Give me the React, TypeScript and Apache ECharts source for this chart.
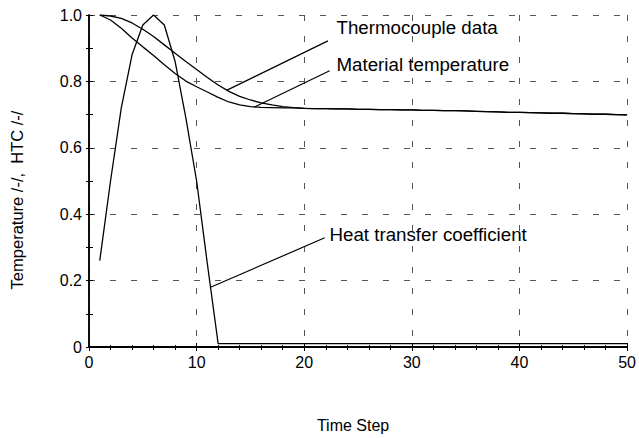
import React, { useEffect, useRef } from "react";
import * as echarts from "echarts";

const timeSteps = [
  1, 2, 3, 4, 5, 6, 7, 8, 9, 10, 11, 12, 13, 14, 15, 16, 17, 18, 19, 20,
  21, 22, 23, 24, 25, 26, 27, 28, 29, 30, 31, 32, 33, 34, 35, 36, 37, 38, 39, 40,
  41, 42, 43, 44, 45, 46, 47, 48, 49, 50,
];

const thermocoupleData = [
  1.0, 0.997, 0.99, 0.976, 0.957, 0.935, 0.91, 0.885, 0.86, 0.836,
  0.812, 0.789, 0.77, 0.755, 0.744, 0.735, 0.729, 0.724, 0.721, 0.719,
  0.718, 0.718, 0.717, 0.717, 0.716, 0.716, 0.715, 0.715, 0.714, 0.714,
  0.713, 0.713, 0.712, 0.712, 0.711, 0.71, 0.709, 0.708, 0.707, 0.707,
  0.706, 0.705, 0.704, 0.704, 0.703, 0.702, 0.701, 0.701, 0.7, 0.699,
];

const materialTemperature = [
  1.0, 0.985, 0.96, 0.931, 0.904, 0.878, 0.85, 0.824, 0.801, 0.784,
  0.768, 0.752, 0.738, 0.729, 0.724, 0.722, 0.721, 0.72, 0.72, 0.719,
  0.718, 0.718, 0.717, 0.717, 0.716, 0.716, 0.715, 0.715, 0.714, 0.714,
  0.713, 0.713, 0.712, 0.712, 0.711, 0.71, 0.709, 0.708, 0.707, 0.707,
  0.706, 0.705, 0.704, 0.704, 0.703, 0.702, 0.701, 0.701, 0.7, 0.699,
];

const heatTransferCoefficient = [
  0.26, 0.5, 0.72, 0.88, 0.97, 1.0, 0.97, 0.86, 0.69, 0.5,
  0.25, 0.01, 0.01, 0.01, 0.01, 0.01, 0.01, 0.01, 0.01, 0.01,
  0.01, 0.01, 0.01, 0.01, 0.01, 0.01, 0.01, 0.01, 0.01, 0.01,
  0.01, 0.01, 0.01, 0.01, 0.01, 0.01, 0.01, 0.01, 0.01, 0.01,
  0.01, 0.01, 0.01, 0.01, 0.01, 0.01, 0.01, 0.01, 0.01, 0.01,
];

const xTickValues = [0, 10, 20, 30, 40, 50];
const yTickValues = [0, 0.2, 0.4, 0.6, 0.8, 1.0];

const annotationTexts = ["Thermocouple data", "Material temperature", "Heat transfer coefficient"];
// leader line start (on curve) and end, label anchor, in data units
const annotationFrom = [
  [12.78, 0.773],
  [15.38, 0.723],
  [11.24, 0.179],
];
const annotationTo = [
  [22.2, 0.922],
  [22.36, 0.832],
  [21.9, 0.329],
];
const annotationLabelAt = [
  [23.0, 0.96],
  [23.0, 0.848],
  [22.35, 0.336],
];

const FONT = '"Liberation Sans", Arial, Helvetica, sans-serif';

export default function App() {
  const ref = useRef<HTMLDivElement>(null);

  useEffect(() => {
    if (!ref.current) return;
    document.body.style.margin = "0";
    const chart = echarts.init(ref.current, undefined, { renderer: "svg" });

    const pairs = (vals: number[]) => timeSteps.map((t, i) => [t, vals[i]]);
    const lineSeries = (name: string, vals: number[]) => ({
      name,
      type: "line",
      data: pairs(vals),
      xAxisIndex: 0,
      yAxisIndex: 0,
      showSymbol: false,
      symbol: "none",
      smooth: false,
      lineStyle: { color: "#000", width: 1.3 },
      z: 5,
    });

    const splitDash = { color: "#555", width: 1, type: [6, 15] as number[] };

    const option: any = {
      animation: false,
      backgroundColor: "#fff",
      textStyle: { fontFamily: FONT },
      grid: { left: 86, right: 9, top: 15, bottom: 80, containLabel: false },
      xAxis: [
        {
          type: "value",
          position: "bottom",
          min: xTickValues[0],
          max: xTickValues[xTickValues.length - 1],
          interval: 10,
          name: "Time Step",
          nameLocation: "middle",
          nameGap: 70,
          nameTextStyle: { color: "#000", fontSize: 16, fontFamily: FONT, padding: [0, 10, 0, 0] },
          axisLine: { show: true, lineStyle: { color: "#000", width: 2 } },
          axisTick: { show: true, inside: true, length: 4, lineStyle: { color: "#000", width: 1 } },
          minorTick: { show: true, splitNumber: 5, length: 2, lineStyle: { color: "#000", width: 1 } },
          axisLabel: { color: "#000", fontSize: 16, fontFamily: FONT, margin: 7 },
          splitLine: { show: true, lineStyle: splitDash },
        },
        {
          type: "value",
          position: "top",
          min: xTickValues[0],
          max: xTickValues[xTickValues.length - 1],
          interval: 10,
          axisLine: { show: true, lineStyle: { color: "#000", width: 2 } },
          axisTick: { show: true, inside: true, length: 4, lineStyle: { color: "#000", width: 1 } },
          minorTick: { show: true, splitNumber: 5, length: 3, lineStyle: { color: "#000", width: 1 } },
          axisLabel: { show: false },
          splitLine: { show: false },
        },
      ],
      yAxis: [
        {
          type: "value",
          position: "left",
          min: yTickValues[0],
          max: yTickValues[yTickValues.length - 1],
          interval: 0.2,
          name: "Temperature /-/,  HTC /-/",
          nameLocation: "middle",
          nameGap: 64,
          nameTextStyle: { color: "#000", fontSize: 16.5, fontFamily: FONT, padding: [0, 38, 0, 0] },
          axisLine: { show: true, lineStyle: { color: "#000", width: 1.5 } },
          axisTick: { show: true, inside: true, length: 4, lineStyle: { color: "#000", width: 1 } },
          minorTick: { show: true, splitNumber: 2, length: 4, lineStyle: { color: "#000", width: 1 } },
          axisLabel: {
            color: "#000",
            fontSize: 16,
            fontFamily: FONT,
            margin: 7,
            formatter: (v: number) => (v === 0 ? "0" : v.toFixed(1)),
          },
          splitLine: { show: true, lineStyle: splitDash },
        },
        {
          type: "value",
          position: "right",
          min: yTickValues[0],
          max: yTickValues[yTickValues.length - 1],
          interval: 0.2,
          axisLine: { show: true, lineStyle: { color: "#000", width: 1.5 } },
          axisTick: { show: true, inside: true, length: 3, lineStyle: { color: "#000", width: 1 } },
          minorTick: { show: true, splitNumber: 2, length: 3, lineStyle: { color: "#000", width: 1 } },
          axisLabel: { show: false },
          splitLine: { show: false },
        },
      ],
      series: [
        lineSeries("Thermocouple data", thermocoupleData),
        lineSeries("Material temperature", materialTemperature),
        lineSeries("Heat transfer coefficient", heatTransferCoefficient),
      ],
    };

    chart.setOption(option);

    const graphics: any[] = [];
    annotationTexts.forEach((text, i) => {
      const p1 = chart.convertToPixel({ gridIndex: 0 }, annotationFrom[i]) as number[];
      const p2 = chart.convertToPixel({ gridIndex: 0 }, annotationTo[i]) as number[];
      const pl = chart.convertToPixel({ gridIndex: 0 }, annotationLabelAt[i]) as number[];
      graphics.push({
        type: "line",
        shape: { x1: p1[0], y1: p1[1], x2: p2[0], y2: p2[1] },
        style: { stroke: "#000", lineWidth: 1.2 },
        z: 10,
      });
      graphics.push({
        type: "text",
        x: pl[0],
        y: pl[1],
        scaleX: 1.07,
        style: {
          text,
          fill: "#000",
          fontSize: 17.5,
          fontFamily: FONT,
          align: "left",
          verticalAlign: "middle",
        },
        z: 10,
      });
    });
    chart.setOption({ graphic: graphics });

    return () => chart.dispose();
  }, []);

  return (
    <div
      ref={ref}
      style={{ position: "fixed", left: 0, top: 0, width: 639, height: 438, background: "#fff" }}
    />
  );
}
